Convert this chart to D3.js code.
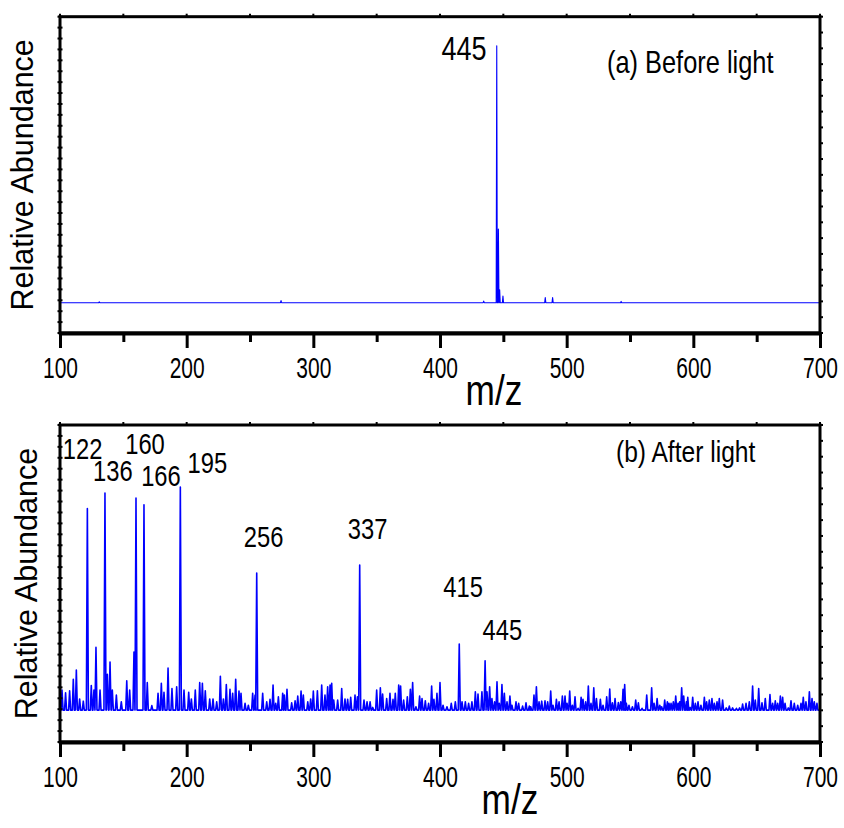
<!DOCTYPE html>
<html>
<head>
<meta charset="utf-8">
<script src="https://cdn.jsdelivr.net/npm/d3@7"></script>
<style>
  body { margin: 0; background: #fff; }
  svg { display: block; }
</style>
</head>
<body>
<svg id="chart" width="844" height="828"></svg>
<script>
// x axis
const mzTicks = [100, 200, 300, 400, 500, 600, 700]
const mzMinor = [150, 250, 350, 450, 550, 650]

// (a) before light: peak m/z and relative abundance (%)
const beforeMz = [131, 274.5, 434.5, 444.8, 446.1, 447.1, 449.7, 483.1, 488.9, 543]
const beforeInt = [0.3, 0.8, 0.6, 100, 28.7, 5, 2.6, 2, 2, 0.5]

// (b) after light: labelled fragment peaks
const afterMajorMz = [121.6, 128.4, 135.5, 139.5, 158.4, 160, 166.3, 185.3, 195, 255.3, 336.6, 415.2, 435.6]
const afterMajorInt = [90.4, 28.1, 97.3, 21.5, 26, 95, 92, 18.8, 100, 61.4, 65, 29.6, 22.1]

// (b) after light: small peaks
const afterNoiseMz = [
  101.6, 104.4, 107.6, 110.5, 112.9, 115.5, 118.4, 124.7, 126.8, 131.6, 137.4, 141.3, 144.5, 148.4,
  152.7, 155, 168.9, 172.5, 177.4, 180, 182.1, 188.4, 192.1, 197.9, 201.6, 203.7, 206.8, 210.3,
  212.4, 214.7, 218.2, 220.8, 223.7, 226.6, 229, 231.3, 234.2, 236.3, 238.7, 241.3, 242.9, 246.1,
  248.7, 252.1, 254, 260, 263.2, 265.8, 268.2, 270.3, 272.4, 275.8, 277.1, 279.2, 282.9, 285.6,
  287.7, 290.3, 292.1, 295.6, 297.9, 300, 303.2, 306.6, 309.2, 311.3, 313.2, 314.5, 316.1, 319.2,
  322.4, 325, 327.1, 329.5, 332.9, 334.8, 340, 342.4, 344.8, 346.9, 350, 352.9, 354.7, 357.9,
  360.5, 362.9, 364.7, 367.4, 368.9, 371.3, 374.2, 376.6, 378.4, 381, 383.9, 385.8, 388.4, 391,
  393.4, 395.2, 397.6, 400, 402.4, 405.5, 408.9, 412.1, 417.4, 420, 422.6, 425.2, 427.9, 430,
  433.1, 437.1, 439.2, 441, 443.1, 445, 446.8, 448.9, 450.8, 452.9, 455.2, 456.8, 460, 462.1,
  465.2, 467.9, 470.5, 471.6, 474.2, 476.1, 478.2, 480.3, 482.9, 485, 487.4, 489.2, 491.9, 494,
  496.6, 498.7, 500.3, 502.4, 504.5, 506.6, 509, 511.4, 512.9, 515, 517.1, 519.2, 521.4, 523.5,
  526.6, 528.7, 531.6, 534, 536.1, 538.2, 540.8, 542.7, 544.5, 545.8, 547.1, 549.2, 551.9, 554.5,
  556.6, 559.5, 563.2, 567.1, 569, 571.4, 573.5, 575, 577.4, 579.5, 580.8, 582.4, 584.2, 586.1,
  587.9, 589.2, 590.8, 592.4, 594.5, 595.6, 597.5, 599.5, 601.6, 603.7, 606, 608.7, 610.5, 612.6,
  614.7, 616.6, 618.7, 620.5, 623.1, 626, 628.4, 631, 634, 636.5, 638.9, 641.6, 644.2, 646.8,
  648.9, 651.6, 654.2, 656.8, 660.5, 662.6, 664.7, 666.6, 668.7, 670.5, 672.4, 675, 677.1, 679.7,
  682.4, 685, 686.8, 688.9, 691.6, 693.7, 695.5, 697.6
]
const afterNoiseInt = [
  9, 7.8, 8.7, 13.8, 18, 5, 4, 11, 9, 9, 16, 9, 6.7, 3.7,
  13.1, 9, 12.3, 2, 7.5, 12, 8, 9.7, 10.5, 9, 8, 5, 9, 12.3,
  12, 8.7, 5, 5, 3.7, 15.2, 5, 11.5, 9.3, 7.5, 13.8, 8.5, 7.5, 3,
  2.2, 7.5, 6.7, 7.5, 3.7, 4.8, 11.2, 3, 6, 7.5, 6.7, 9.3, 3.3, 4.2,
  6.3, 8.5, 6.7, 3.7, 5, 8.5, 8.7, 11.2, 6.7, 10.5, 11.2, 12, 4.5, 4.5,
  9.7, 5, 4.8, 5.7, 6.7, 6, 4.5, 3.7, 3.7, 1.2, 9, 10, 7.2, 5.2,
  7.5, 4.8, 7.5, 11.2, 10.8, 4.5, 6, 9.3, 12.4, 1.5, 6.3, 5.2, 4.2, 3,
  10.8, 4.8, 7.5, 12.4, 2.2, 1.5, 3, 3.7, 3.7, 3.7, 3, 3.7, 8.2, 7.2,
  8.2, 8.2, 10.5, 5.2, 3.7, 12.7, 3, 11.5, 7.5, 3.7, 6.3, 2.2, 3.7, 3,
  1.8, 3.3, 1.8, 1.5, 6.7, 10.5, 3.7, 4, 4.2, 3.7, 8.5, 2.2, 4.8, 3.7,
  6.3, 6.3, 3, 8.5, 2.2, 6, 0.8, 5.7, 4.8, 3.7, 10.8, 3, 10, 5.2,
  4.8, 2.2, 6, 9.4, 3.3, 5.2, 3.4, 3.7, 9.3, 11.5, 3, 2.2, 1.5, 4.5,
  3.3, 0.8, 6.7, 10, 3, 5.2, 2.2, 1.5, 4.5, 3.7, 3, 3, 3.7, 6.3,
  3, 3.7, 10, 6.3, 3.7, 5.7, 1.2, 5.7, 3, 3.7, 2.2, 5.7, 3.7, 4.5,
  5.2, 3, 3.7, 5.2, 4.5, 1, 1.8, 1, 0.8, 1, 2.7, 3, 3.7, 10.8,
  4.5, 9.7, 3.3, 5.2, 7, 3, 4.2, 3, 6.3, 5.7, 3, 1, 4.2, 3,
  2.2, 3, 5.7, 3.7, 8.2, 5.2, 3.7, 3
]

// peak labels: text, m/z and abundance where the label baseline sits
const beforeLabels = ['445']
const beforeLabelMz = [419]
const beforeLabelInt = [94.4]

const afterLabels = ['122', '136', '160', '166', '195', '256', '337', '415', '445']
const afterLabelMz = [117.8, 141.8, 167.1, 179.7, 216.4, 260.7, 342.8, 418.2, 449.3]
const afterLabelInt = [112.6, 102.7, 114.8, 100.4, 106.3, 73.1, 76.7, 50.7, 31.4]

// no narrow face installed, so squeeze Liberation Sans horizontally
const font = "'Liberation Sans', Arial, sans-serif"
const squeeze = 0.82

class SpectrumPanel {
  constructor (svg, opt) {
    this.svg = svg
    this.config = opt
    this.x = d3.scaleLinear().domain([100, 700]).range([60, 820])
    this.y = d3.scaleLinear().domain(opt.yDomain).range([opt.bottom, opt.top])
    this.g = svg.append('g')
  }

  peaks () {
    const { mz, int } = this.config
    const w = this.config.halfWidth
    const pts = [[100, 0]]
    const order = d3.range(mz.length).sort((a, b) => mz[a] - mz[b])
    order.forEach(i => {
      pts.push([mz[i] - w, 0], [mz[i], int[i]], [mz[i] + w, 0])
    })
    pts.push([700, 0])
    return pts
  }

  draw () {
    const c = this.config
    const g = this.g
    const x = this.x
    const y = this.y

    // spectrum
    const line = d3.line().x(d => x(d[0])).y(d => y(d[1]))
    g.append('path')
      .attr('d', line(this.peaks()))
      .attr('fill', 'none')
      .attr('stroke', '#0000ff')
      .attr('stroke-width', c.lineWidth)
      .attr('stroke-linejoin', 'round')

    // frame
    g.append('rect')
      .attr('x', 60).attr('y', c.top)
      .attr('width', 760).attr('height', c.bottom - c.top)
      .attr('fill', 'none').attr('stroke', '#000').attr('stroke-width', 3)

    // little ticks on left / right / top borders
    const leftTicks = d3.scaleLinear().domain([0, 29]).range([c.bottom, c.top])
    g.selectAll('.lt').data(d3.range(30)).join('line')
      .attr('x1', 57.5).attr('x2', 62.5)
      .attr('y1', d => leftTicks(d)).attr('y2', d => leftTicks(d))
      .attr('stroke', '#000').attr('stroke-width', 2)
    const rightTicks = d3.scaleLinear().domain([0, 20]).range([c.bottom, c.top])
    g.selectAll('.rt').data(d3.range(21)).join('line')
      .attr('x1', 819).attr('x2', 823)
      .attr('y1', d => rightTicks(d)).attr('y2', d => rightTicks(d))
      .attr('stroke', '#000').attr('stroke-width', 2)
    g.selectAll('.tt').data(mzTicks.concat(mzMinor)).join('line')
      .attr('x1', d => x(d)).attr('x2', d => x(d))
      .attr('y1', c.top - 3).attr('y2', c.top + 1)
      .attr('stroke', '#000').attr('stroke-width', 2)

    // bottom axis
    const axis = g.append('g')
      .attr('transform', `translate(0, ${c.bottom})`)
      .call(d3.axisBottom(x).tickValues(mzTicks).tickSize(15).tickSizeOuter(0))
    axis.select('.domain').attr('stroke-width', 4)
    axis.selectAll('.tick line').attr('stroke-width', 3)
    axis.selectAll('.tick text')
      .attr('fill', '#000')
      .attr('font-family', font)
      .attr('font-size', 30)
      .attr('transform', 'scale(0.7,1)')
      .attr('dy', 0).attr('y', 45)
    g.append('g')
      .attr('transform', `translate(0, ${c.bottom})`)
      .call(d3.axisBottom(x).tickValues(mzMinor).tickSize(9).tickFormat(''))
      .call(s => s.select('.domain').remove())
      .selectAll('.tick line').attr('stroke-width', 3)

    // axis titles
    g.append('text')
      .attr('transform', `translate(${c.titleX}, ${c.bottom + 72}) scale(${squeeze},1)`)
      .attr('text-anchor', 'middle')
      .attr('font-family', font).attr('font-size', 43)
      .text('m/z')
    g.append('text')
      .attr('transform', `translate(${c.yTitleX}, ${(c.top + c.bottom) / 2}) rotate(-90)`)
      .attr('text-anchor', 'middle')
      .attr('font-family', font).attr('font-size', 30.5)
      .text('Relative Abundance')

    // peak labels
    g.selectAll('.lab').data(c.labels).join('text')
      .attr('transform', (d, i) => `translate(${x(c.labelMz[i])}, ${y(c.labelInt[i])}) scale(${squeeze},1)`)
      .attr('text-anchor', 'middle')
      .attr('font-family', font).attr('font-size', c.labelSize)
      .text(d => d)

    // panel title
    g.append('text')
      .attr('transform', `translate(${x(c.nameMz)}, ${y(c.nameInt)}) scale(${squeeze},1)`)
      .attr('font-family', font).attr('font-size', c.nameSize)
      .text(c.name)
  }
}

const svg = d3.select('#chart')

new SpectrumPanel(svg, {
  top: 16.7, bottom: 333, yDomain: [-11.8, 111.3],
  mz: beforeMz, int: beforeInt, halfWidth: 0.45, lineWidth: 1.1,
  labels: beforeLabels, labelMz: beforeLabelMz, labelInt: beforeLabelInt, labelSize: 33,
  name: '(a) Before light', nameMz: 531.8, nameInt: 89.3, nameSize: 31,
  titleX: 494, yTitleX: 33
}).draw()

new SpectrumPanel(svg, {
  top: 425, bottom: 742, yDomain: [-14.3, 127.8],
  mz: afterMajorMz.concat(afterNoiseMz), int: afterMajorInt.concat(afterNoiseInt),
  halfWidth: 0.8, lineWidth: 1.6,
  labels: afterLabels, labelMz: afterLabelMz, labelInt: afterLabelInt, labelSize: 29,
  name: '(b) After light', nameMz: 538.9, nameInt: 111.1, nameSize: 30,
  titleX: 510, yTitleX: 37
}).draw()
</script>
</body>
</html>
